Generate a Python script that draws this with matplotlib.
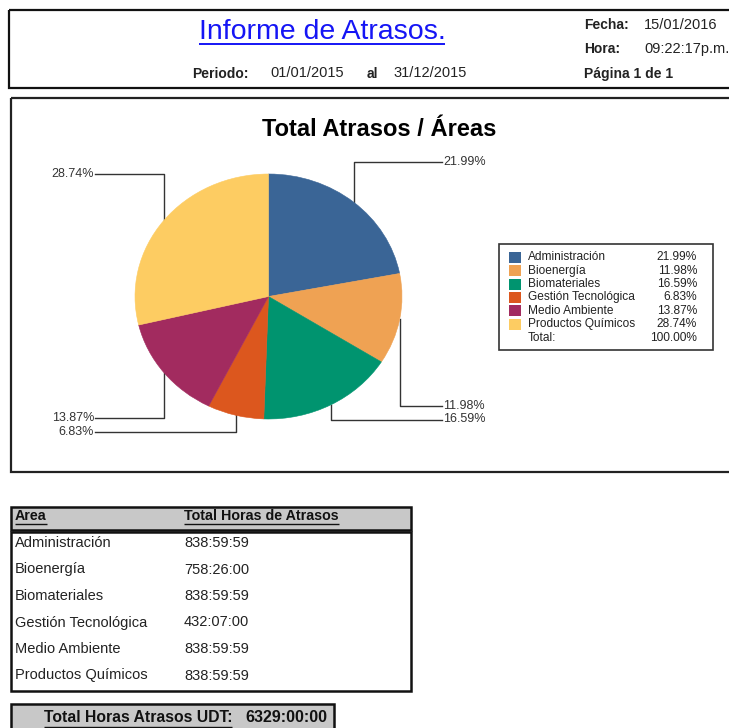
import numpy as np
import matplotlib
matplotlib.use('Agg')
import matplotlib.pyplot as plt
from matplotlib.patches import Rectangle

plt.rcParams['font.family'] = ['Liberation Sans', 'DejaVu Sans']

# report data
areas = ['Administración', 'Bioenergía', 'Biomateriales', 'Gestión Tecnológica',
         'Medio Ambiente', 'Productos Químicos']
pct = [21.99, 11.98, 16.59, 6.83, 13.87, 28.74]
horas = ['838:59:59', '758:26:00', '838:59:59', '432:07:00', '838:59:59', '838:59:59']
total_horas = '6329:00:00'
colors = ['#3A6596', '#EFA253', '#00946F', '#DC571E', '#A22B5F', '#FDCC62']

fecha = '15/01/2016'
hora = '09:22:17p.m.'
pagina = 'Página 1 de 1'
periodo_ini = '01/01/2015'
periodo_fin = '31/12/2015'

W, H = 729, 728
fig = plt.figure(figsize=(W / 100, H / 100), dpi=100)
ax = fig.add_axes([0, 0, 1, 1])
ax.set_xlim(0, W)
ax.set_ylim(H, 0)
ax.axis('off')

txt_col = '#222222'


def underline(t, y, lw=1.2, color=None):
    # underline at page y, spanning the text width
    fig.canvas.draw()
    bb = t.get_window_extent()
    inv = ax.transData.inverted()
    (x0, _), (x1, _) = inv.transform([(bb.x0, bb.y0), (bb.x1, bb.y1)])
    ax.plot([x0, x1], [y, y], color=color or t.get_color(), lw=lw, solid_capstyle='butt')


# ---------------- header ----------------
ax.add_patch(Rectangle((9, 10), 740, 78, fill=False, ec='#111111', lw=1.6))
t = ax.text(322, 32, 'Informe de Atrasos.', color='#1515F5', fontsize=20.5,
            ha='center', va='center')
underline(t, 44, lw=1.4)

ax.text(192, 74, 'Periodo:', fontsize=10, fontweight='bold', va='center', color=txt_col)
ax.text(270, 73, periodo_ini, fontsize=10.5, va='center', color=txt_col)
ax.text(367, 74, 'al', fontsize=10, fontweight='bold', va='center', color=txt_col)
ax.text(393, 73, periodo_fin, fontsize=10.5, va='center', color=txt_col)

ax.text(584, 25, 'Fecha:', fontsize=10, fontweight='bold', va='center', color=txt_col)
ax.text(644, 25, fecha, fontsize=10.5, va='center', color=txt_col)
ax.text(584, 49, 'Hora:', fontsize=10, fontweight='bold', va='center', color=txt_col)
ax.text(644, 49, hora, fontsize=10.5, va='center', color=txt_col)
ax.text(584, 74, pagina, fontsize=10, fontweight='bold', va='center', color=txt_col)

# ---------------- chart frame ----------------
ax.add_patch(Rectangle((11, 98), 740, 374, fill=False, ec='#222222', lw=1.6))
ax.text(379, 129, 'Total Atrasos / Áreas', fontsize=17, fontweight='bold',
        ha='center', va='center', color='black')

# pie (slightly elliptical, drawn in its own axes)
cx, cy, rx, ry = 268.5, 296.5, 133.5, 122.5
pax = fig.add_axes([(cx - rx) / W, (H - cy - ry) / H, 2 * rx / W, 2 * ry / H])
wedges, _ = pax.pie(pct, colors=colors, startangle=90, counterclock=False,
                    wedgeprops=dict(edgecolor='none', linewidth=0))
for w in wedges:
    w.set_edgecolor(w.get_facecolor())
    w.set_linewidth(0.4)
pax.set_aspect('auto')
pax.set_xlim(-1, 1)
pax.set_ylim(-1, 1)
pax.axis('off')

# leader lines: vertical from slice midpoint, then horizontal to the label
label_y = [162, 406, 419.5, 432, 418, 174]
cum = np.cumsum([0] + pct[:-1])
for i, p in enumerate(pct):
    mid = np.deg2rad(90 - (cum[i] + p / 2) / 100 * 360)
    px = cx + rx * np.cos(mid)
    py = cy - ry * np.sin(mid)
    ly = label_y[i]
    if np.cos(mid) > 0:
        lx = 442
        ax.text(lx + 1, ly, '%.2f%%' % p, fontsize=9, ha='left', va='center', color='#333333')
    else:
        lx = 95
        ax.text(lx - 1, ly, '%.2f%%' % p, fontsize=9, ha='right', va='center', color='#333333')
    ax.plot([px, px, lx], [py, ly, ly], color='#333333', lw=1.0)

# legend box
ax.add_patch(Rectangle((499, 244), 214, 106, fill=False, ec='#333333', lw=1.2))
for i, (a, p) in enumerate(zip(areas, pct)):
    y = 257.5 + i * 13.3
    ax.add_patch(Rectangle((509.5, y - 5.5), 12, 11, fc=colors[i], ec='none'))
    ax.text(528, y, a, fontsize=8.6, va='center', color='#222222')
    ax.text(697, y, '%.2f%%' % p, fontsize=8.6, va='center', ha='right', color='#222222')
ax.text(528, 257.5 + 6 * 13.3 + 1, 'Total:', fontsize=8.6, va='center', color='#222222')
ax.text(697, 257.5 + 6 * 13.3 + 1, '%.2f%%' % sum(pct), fontsize=8.6, va='center',
        ha='right', color='#222222')

# ---------------- table ----------------
ax.add_patch(Rectangle((11, 507), 400, 23, fc='#C8C8C8', ec='#111111', lw=1.8))
t1 = ax.text(15, 516, 'Area', fontsize=10.3, fontweight='bold', va='center', color='#111111')
t2 = ax.text(184, 516, 'Total Horas de Atrasos', fontsize=10.3, fontweight='bold',
             va='center', color='#111111')
underline(t1, 523.5, lw=1.0)
underline(t2, 523.5, lw=1.0)

ax.add_patch(Rectangle((11, 532), 400, 159, fc='white', ec='#111111', lw=1.8))
for i, (a, h) in enumerate(zip(areas, horas)):
    y = 543 + i * 26.5
    ax.text(15, y, a, fontsize=10.5, va='center', color='#222222')
    ax.text(184, y, h, fontsize=10.5, va='center', color='#222222')

ax.add_patch(Rectangle((11, 704), 323, 40, fc='#C8C8C8', ec='#111111', lw=1.8))
t3 = ax.text(44, 718, 'Total Horas Atrasos UDT:', fontsize=11.3, fontweight='bold',
             va='center', color='#111111')
underline(t3, 726.5, lw=1.0)
ax.text(245, 718, total_horas, fontsize=11.5, fontweight='bold', va='center', color='#111111')

fig.savefig('out.png', dpi=100, facecolor='white')
